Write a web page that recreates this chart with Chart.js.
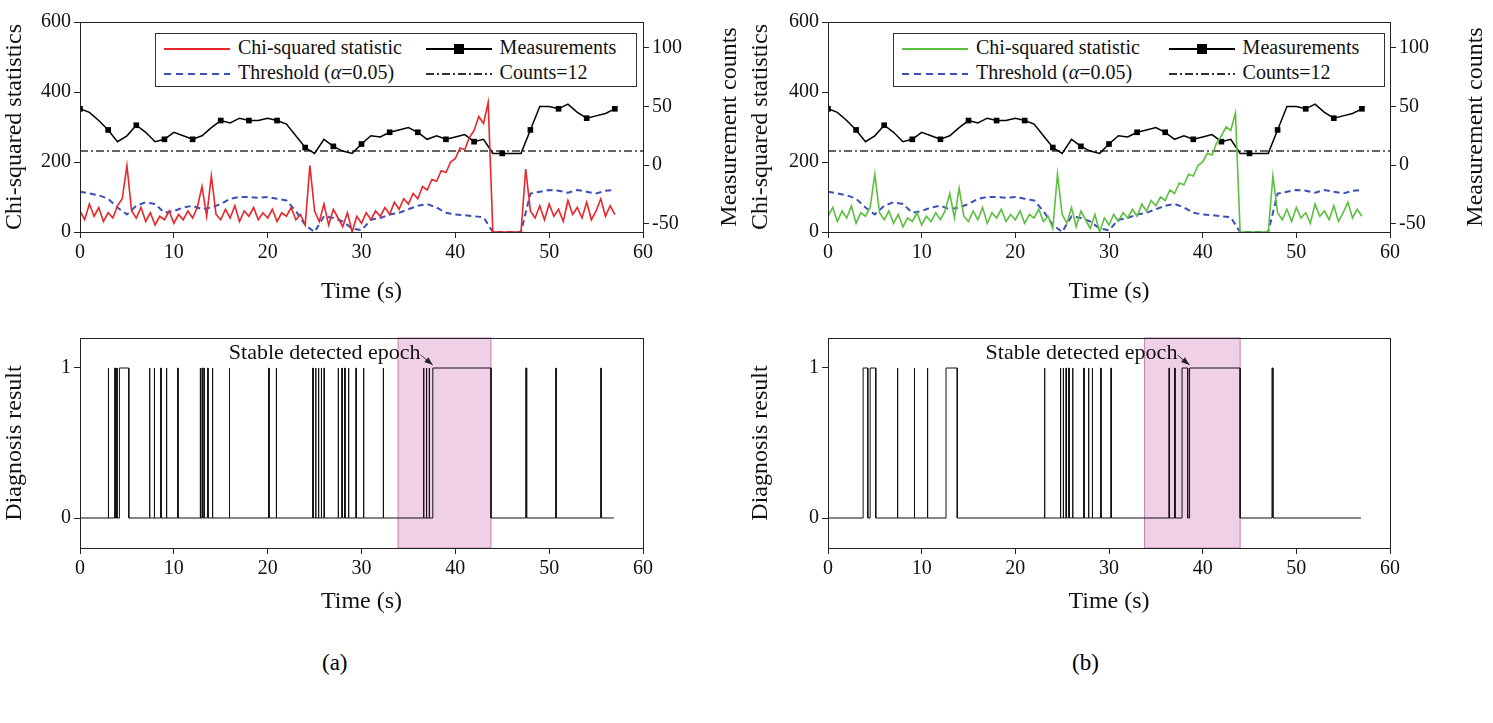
<!DOCTYPE html>
<html>
<head>
<meta charset="utf-8">
<script src="https://cdn.jsdelivr.net/npm/chart.js@4.4.1/dist/chart.umd.min.js"></script>
<style>
  body { margin: 0; background: #fff; font-family: "Liberation Serif", serif; }
  .wrap { position: relative; width: 1493px; height: 723px; }
  canvas { position: absolute; }
  .legend { position: absolute; border: 1px solid #333; background: #fff; font-size: 20px; color: #111;
            display: grid; grid-template-columns: auto auto; column-gap: 8px; padding: 1px 6px; line-height: 25px; }
  .legend span { white-space: nowrap; }
  .legend svg { vertical-align: middle; margin-right: 6px; }
  .cap { position: absolute; font-size: 23px; }
</style>
</head>
<body>
<div class="wrap">
  <canvas id="topA" style="left:0;top:0"></canvas>
  <canvas id="botA" style="left:0;top:320px"></canvas>
  <canvas id="topB" style="left:746px;top:0"></canvas>
  <canvas id="botB" style="left:746px;top:320px"></canvas>
  <div class="legend" id="legA" style="left:155px;top:33px;width:468px"></div>
  <div class="legend" id="legB" style="left:893px;top:33px;width:478px"></div>
  <div class="cap" style="left:322px;top:650px">(a)</div>
  <div class="cap" style="left:1072px;top:650px">(b)</div>
</div>
<script>
// Time axis (s)
const chiTimes = [];
for (let i = 0; i <= 114; i++) chiTimes.push(i * 0.5);
const secTimes = [];
for (let i = 0; i <= 57; i++) secTimes.push(i);

// Chi-squared statistic, sampled every 0.5 s
const chiA = [60,35,80,45,70,30,55,40,75,95,
  190,60,40,70,30,55,20,45,35,60,
  25,50,35,60,40,70,130,45,160,50,
  35,65,40,75,30,60,45,70,35,55,
  40,65,30,55,45,70,35,50,20,190,
  60,30,80,20,65,40,15,55,0,45,
  25,55,35,60,45,70,50,85,65,95,
  80,110,95,130,120,150,145,175,170,200,
  210,240,235,270,290,330,310,370,0,0,
  0,0,0,0,0,180,60,40,75,35,
  80,45,65,30,90,50,70,40,85,35,
  60,95,45,75,50];
const chiB = [45,70,30,60,40,75,25,55,45,70,
  165,55,35,60,25,50,15,40,30,55,
  20,45,30,55,35,60,110,40,125,45,
  30,60,35,70,25,55,40,65,30,50,
  35,60,25,50,40,65,30,45,10,165,
  50,25,70,15,60,35,10,50,0,40,
  20,50,30,55,40,65,45,80,60,90,
  75,100,90,120,110,140,135,165,160,190,
  200,225,220,255,275,300,290,340,0,0,
  0,0,0,0,0,160,55,35,65,30,
  70,40,55,25,80,45,60,35,75,30,
  55,85,40,65,45];

// Threshold (alpha = 0.05), every 1 s
const threshold = [115,110,105,95,70,50,75,85,80,55,60,70,75,65,70,80,95,100,100,98,
  100,95,90,60,20,0,45,40,30,10,5,35,40,50,55,65,75,80,70,55,
  50,48,45,42,0,0,0,0,110,115,120,118,112,120,115,110,118,120];

// Measurement counts, every 1 s
const measurements = [48,45,38,30,20,25,34,28,20,22,28,25,22,25,32,38,36,40,38,38,
  40,38,35,25,15,10,22,16,12,10,18,25,24,28,30,32,28,22,25,22,
  24,26,20,22,10,10,10,10,30,50,50,48,52,45,40,42,44,48];
const countsLevel = 12;

// Diagnosis result = 1 intervals [start, end] (s)
const diagA = [[3.0,3.05],[3.7,3.75],[3.9,3.95],[4.2,5.2],[7.4,7.45],[7.9,7.95],[8.6,8.65],[9.2,9.25],
  [10.4,10.45],[12.8,12.85],[13.0,13.05],[13.2,13.25],[13.6,13.65],[14.1,14.15],[15.9,15.95],
  [20.1,20.15],[20.9,20.95],[24.8,24.85],[25.1,25.15],[25.4,25.45],[25.7,25.75],[26.0,26.05],
  [27.5,27.55],[27.9,27.95],[28.2,28.25],[28.6,28.65],[29.4,29.45],[30.2,30.25],[32.3,32.35],
  [36.6,36.65],[36.9,36.95],[37.2,37.25],[37.6,43.8],[47.5,47.6],[50.7,50.75],[55.5,55.55]];
const diagB = [[3.75,4.25],[4.5,5.1],[7.4,7.45],[9.2,9.25],[10.6,10.65],[12.6,13.8],
  [23.1,23.15],[24.8,24.85],[25.1,25.15],[25.4,25.45],[25.7,25.75],[26.1,26.15],[27.3,27.35],
  [27.8,27.85],[28.2,28.25],[29.1,29.15],[30.2,30.25],[36.4,36.45],[37.0,37.05],[37.8,38.4],
  [38.6,44.0],[47.4,47.5]];
const diagEnd = 56.9;
const shadeA = [33.9, 43.8];
const shadeB = [33.8, 44.0];
const epochA = 37.6;
const epochB = 38.6;

const FONT = "'Liberation Serif', serif";
Chart.defaults.font.family = FONT;
Chart.defaults.color = '#111';
Chart.defaults.animation = false;
const TICKFONT = { family: FONT, size: 20 };
const TITLEFONT = { family: FONT, size: 24 };

const framePlugin = {
  id: 'frame',
  afterDraw(chart) {
    const a = chart.chartArea, ctx = chart.ctx;
    ctx.save();
    ctx.strokeStyle = '#222';
    ctx.lineWidth = 1;
    ctx.strokeRect(a.left + 0.5, a.top + 0.5, a.width, a.height);
    ctx.restore();
  }
};

// right-axis title, rotated the same way as the left one
const rightTitlePlugin = {
  id: 'rightTitle',
  afterDraw(chart) {
    const a = chart.chartArea, ctx = chart.ctx;
    ctx.save();
    ctx.font = '24px ' + FONT;
    ctx.fillStyle = '#111';
    ctx.textAlign = 'center';
    ctx.textBaseline = 'middle';
    ctx.translate(chart.width - 16, (a.top + a.bottom) / 2);
    ctx.rotate(-Math.PI / 2);
    ctx.fillText('Measurement counts', 0, 0);
    ctx.restore();
  }
};

function pts(xs, ys) { return ys.map((v, i) => ({ x: xs[i], y: v })); }

function xScale(h) {
  return {
    type: 'linear', min: 0, max: 60,
    ticks: { stepSize: 10, font: TICKFONT, color: '#111' },
    grid: { drawOnChartArea: false, tickLength: 6, color: '#222' },
    border: { color: '#222' },
    title: { display: true, text: 'Time (s)', font: TITLEFONT, padding: { top: 0 } },
    afterFit(s) { s.height = h; }
  };
}

function makeTop(id, chi, chiColor, yw, rw) {
  new Chart(document.getElementById(id), {
    type: 'line',
    data: {
      datasets: [
        { data: pts(chiTimes, chi), borderColor: chiColor, borderWidth: 1.6, pointRadius: 0, yAxisID: 'y' },
        { data: pts(secTimes, threshold), borderColor: '#3a4fb8', borderWidth: 2, borderDash: [6, 4], pointRadius: 0, yAxisID: 'y' },
        { data: pts(secTimes, measurements), borderColor: '#000', borderWidth: 1.5, yAxisID: 'y2',
          pointStyle: 'rect', pointBackgroundColor: '#000', pointBorderWidth: 0,
          pointRadius: ctx => (ctx.dataIndex % 3 === 0 ? 4 : 0) },
        { data: [{ x: 0, y: countsLevel }, { x: 60, y: countsLevel }], borderColor: '#333', borderWidth: 1.5,
          borderDash: [8, 3, 2, 3], pointRadius: 0, yAxisID: 'y2' }
      ]
    },
    options: {
      responsive: false, maintainAspectRatio: false,
      layout: { padding: { top: 22, left: 0, right: 0 } },
      plugins: { legend: { display: false }, tooltip: { enabled: false } },
      scales: {
        x: xScale(78),
        y: {
          min: 0, max: 600,
          ticks: { stepSize: 200, font: TICKFONT, color: '#111' },
          grid: { drawOnChartArea: false, tickLength: 6, color: '#222' },
          border: { color: '#222' },
          title: { display: true, text: 'Chi-squared statistics', font: TITLEFONT, padding: 0 },
          afterFit(s) { s.width = yw; }
        },
        y2: {
          position: 'right', min: -57, max: 122,
          afterBuildTicks(s) { s.ticks = [-50, 0, 50, 100].map(v => ({ value: v })); },
          ticks: { font: TICKFONT, color: '#111' },
          grid: { drawOnChartArea: false, tickLength: 6, color: '#222' },
          border: { color: '#222' },
          afterFit(s) { s.width = rw; }
        }
      }
    },
    plugins: [framePlugin, rightTitlePlugin]
  });
}

function makeBottom(id, intervals, shade, epoch, yw, rw) {
  const steps = [{ x: 0, y: 0 }];
  intervals.forEach(([s, e]) => {
    steps.push({ x: s, y: 0 }, { x: s, y: 1 }, { x: e, y: 1 }, { x: e, y: 0 });
  });
  steps.push({ x: diagEnd, y: 0 });

  const shadePlugin = {
    id: 'shade',
    beforeDatasetsDraw(chart) {
      const { ctx, chartArea: a, scales } = chart;
      const x0 = scales.x.getPixelForValue(shade[0]), x1 = scales.x.getPixelForValue(shade[1]);
      ctx.save();
      ctx.fillStyle = 'rgba(222,150,200,0.45)';
      ctx.fillRect(x0, a.top, x1 - x0, a.height);
      ctx.strokeStyle = '#c77fb5';
      ctx.strokeRect(x0, a.top, x1 - x0, a.height);
      ctx.restore();
    },
    afterDatasetsDraw(chart) {
      const { ctx, scales } = chart;
      const tx = scales.x.getPixelForValue(epoch - 1.3), ty = scales.y.getPixelForValue(1.1);
      const ax = scales.x.getPixelForValue(epoch), ay = scales.y.getPixelForValue(1.02);
      ctx.save();
      ctx.font = "22px " + FONT;
      ctx.fillStyle = '#111';
      ctx.textAlign = 'right';
      ctx.textBaseline = 'middle';
      ctx.fillText('Stable detected epoch', tx, ty);
      ctx.strokeStyle = '#333';
      ctx.beginPath(); ctx.moveTo(tx, ty + 2); ctx.lineTo(ax, ay); ctx.stroke();
      ctx.fillStyle = '#222';
      ctx.beginPath();
      const ang = Math.atan2(ay - ty - 2, ax - tx);
      ctx.moveTo(ax, ay);
      ctx.lineTo(ax - 9 * Math.cos(ang - 0.35), ay - 9 * Math.sin(ang - 0.35));
      ctx.lineTo(ax - 9 * Math.cos(ang + 0.35), ay - 9 * Math.sin(ang + 0.35));
      ctx.fill();
      ctx.restore();
    }
  };

  new Chart(document.getElementById(id), {
    type: 'line',
    data: { datasets: [{ data: steps, borderColor: '#111', borderWidth: 1, pointRadius: 0 }] },
    options: {
      responsive: false, maintainAspectRatio: false,
      layout: { padding: { top: 18, right: rw } },
      plugins: { legend: { display: false }, tooltip: { enabled: false } },
      scales: {
        x: xScale(72),
        y: {
          min: -0.2, max: 1.2,
          afterBuildTicks(s) { s.ticks = [0, 1].map(v => ({ value: v })); },
          ticks: { font: TICKFONT, color: '#111' },
          grid: { drawOnChartArea: false, tickLength: 6, color: '#222' },
          border: { color: '#222' },
          title: { display: true, text: 'Diagnosis result', font: TITLEFONT, padding: 0 },
          afterFit(s) { s.width = yw; }
        }
      }
    },
    plugins: [framePlugin, shadePlugin]
  });
}

function sizeCanvas(id, w, h) {
  const c = document.getElementById(id);
  c.width = w; c.height = h; c.style.width = w + 'px'; c.style.height = h + 'px';
}
sizeCanvas('topA', 746, 310); sizeCanvas('botA', 746, 300);
sizeCanvas('topB', 746, 310); sizeCanvas('botB', 746, 300);

makeTop('topA', chiA, '#e8262b', 80, 103);
makeTop('topB', chiB, '#5cbf3f', 82, 102);
makeBottom('botA', diagA, shadeA, epochA, 80, 103);
makeBottom('botB', diagB, shadeB, epochB, 82, 102);

function legendHtml(chiColor) {
  const line = (stroke, dash, marker) =>
    `<svg width="70" height="12"><line x1="2" y1="6" x2="68" y2="6" stroke="${stroke}" stroke-width="2" ${dash ? `stroke-dasharray="${dash}"` : ''}/>${marker ? '<rect x="30" y="1" width="10" height="10" fill="#000"/>' : ''}</svg>`;
  return `<span>${line(chiColor)}Chi-squared statistic</span>
    <span>${line('#000', null, true)}Measurements</span>
    <span>${line('#3a4fb8', '7,5')}Threshold (<i>α</i>=0.05)</span>
    <span>${line('#333', '8,3,2,3')}Counts=12</span>`;
}
document.getElementById('legA').innerHTML = legendHtml('#e8262b');
document.getElementById('legB').innerHTML = legendHtml('#5cbf3f');
</script>
</body>
</html>
